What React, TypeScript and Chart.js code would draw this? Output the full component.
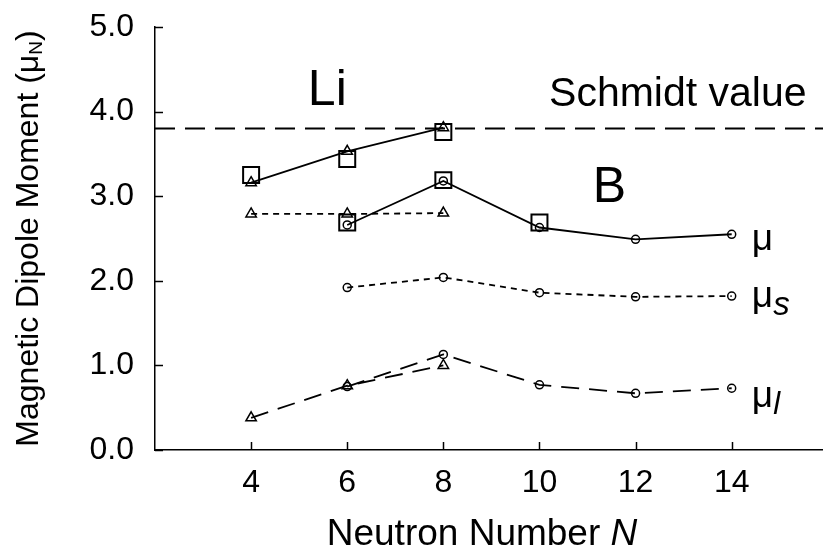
import React, { useEffect, useRef } from "react";
import { Chart, registerables } from "chart.js";

Chart.register(...registerables);

const FONT = "'Liberation Sans', Arial, Helvetica, sans-serif";

// Tick labels
const xTicks = [4, 6, 8, 10, 12, 14];
const yTicks = [0, 1, 2, 3, 4, 5];

// Schmidt value (horizontal dashed line)
const SCHMIDT_VALUE = 3.8;

// Li isotopes
const liN = [4, 6, 8];
const liMu = [3.16, 3.53, 3.81];
const liMuExp = [3.25, 3.44, 3.76];
const liMuS = [2.79, 2.79, 2.8];
const liMuL = [0.38, 0.76, 1.0];

// B isotopes
const bN = [6, 8, 10, 12, 14];
const bMu = [2.66, 3.18, 2.63, 2.49, 2.55];
const bMuS = [1.92, 2.04, 1.86, 1.81, 1.82];
const bMuL = [0.75, 1.13, 0.77, 0.67, 0.73];
const bExpN = [6, 8, 10];
const bMuExp = [2.69, 3.19, 2.69];

type Part = { text: string; font: string; dy?: number };

function drawParts(ctx: CanvasRenderingContext2D, parts: Part[], x: number, y: number, align: "left" | "center") {
  let total = 0;
  const widths = parts.map((p) => {
    ctx.font = p.font;
    const w = ctx.measureText(p.text).width;
    total += w;
    return w;
  });
  let cx = align === "center" ? x - total / 2 : x;
  ctx.textAlign = "left";
  ctx.textBaseline = "alphabetic";
  parts.forEach((p, i) => {
    ctx.font = p.font;
    ctx.fillText(p.text, cx, y + (p.dy || 0));
    cx += widths[i];
  });
}

const overlay = {
  id: "overlay",
  beforeDatasetsDraw(chart: any) {
    const { ctx, chartArea, scales } = chart;
    const y = scales.y.getPixelForValue(SCHMIDT_VALUE);
    ctx.save();
    ctx.strokeStyle = "#000";
    ctx.lineWidth = 1.8;
    ctx.setLineDash([20, 10]);
    ctx.beginPath();
    ctx.moveTo(chartArea.left, y);
    ctx.lineTo(chartArea.right, y);
    ctx.stroke();
    ctx.restore();
  },
  afterDraw(chart: any) {
    const { ctx, chartArea, scales } = chart;
    const xs = scales.x;
    const ys = scales.y;
    ctx.save();
    ctx.strokeStyle = "#000";
    ctx.lineWidth = 1.5;
    ctx.setLineDash([]);
    // inward tick marks
    xTicks.forEach((v) => {
      const px = Math.round(xs.getPixelForValue(v)) + 0.5;
      ctx.beginPath();
      ctx.moveTo(px, chartArea.bottom);
      ctx.lineTo(px, chartArea.bottom - 8);
      ctx.stroke();
    });
    yTicks.forEach((v) => {
      const py = Math.round(ys.getPixelForValue(v)) + 0.5;
      ctx.beginPath();
      ctx.moveTo(chartArea.left, py);
      ctx.lineTo(chartArea.left + 8, py);
      ctx.stroke();
    });

    ctx.fillStyle = "#000";
    // annotations
    drawParts(ctx, [{ text: "Li", font: `50px ${FONT}` }], xs.getPixelForValue(5.18), ys.getPixelForValue(4.08), "left");
    drawParts(ctx, [{ text: "Schmidt value", font: `41px ${FONT}` }], xs.getPixelForValue(10.2), ys.getPixelForValue(4.07), "left");
    drawParts(ctx, [{ text: "B", font: `50px ${FONT}` }], xs.getPixelForValue(11.11), ys.getPixelForValue(2.935), "left");
    const lx = xs.getPixelForValue(14.42);
    drawParts(ctx, [{ text: "μ", font: `37px ${FONT}` }], lx, ys.getPixelForValue(2.36), "left");
    drawParts(
      ctx,
      [
        { text: "μ", font: `37px ${FONT}` },
        { text: "s", font: `italic 33px ${FONT}`, dy: 8 },
      ],
      lx,
      ys.getPixelForValue(1.69),
      "left"
    );
    drawParts(
      ctx,
      [
        { text: "μ", font: `37px ${FONT}` },
        { text: "l", font: `italic 31px ${FONT}`, dy: 7 },
      ],
      lx,
      ys.getPixelForValue(0.51),
      "left"
    );

    // x axis title
    drawParts(
      ctx,
      [
        { text: "Neutron Number ", font: `37px ${FONT}` },
        { text: "N", font: `italic 37px ${FONT}` },
      ],
      482,
      545,
      "center"
    );

    // y axis title (rotated)
    ctx.save();
    ctx.translate(38, (chartArea.top + chartArea.bottom) / 2);
    ctx.rotate(-Math.PI / 2);
    drawParts(
      ctx,
      [
        { text: "Magnetic Dipole Moment (μ", font: `32px ${FONT}` },
        { text: "N", font: `19px ${FONT}`, dy: 4 },
        { text: ")", font: `32px ${FONT}` },
      ],
      0,
      0,
      "center"
    );
    ctx.restore();
    ctx.restore();
  },
};

export default function App() {
  const ref = useRef<HTMLCanvasElement>(null);

  useEffect(() => {
    const canvas = ref.current;
    if (!canvas) return;
    const mk = (xv: number[], yv: number[]) => xv.map((x, i) => ({ x, y: yv[i] }));
    const base = {
      borderColor: "#000",
      pointBorderColor: "#000",
      pointBackgroundColor: "rgba(0,0,0,0)",
      borderWidth: 1.8,
      pointBorderWidth: 1.5,
      fill: false,
      tension: 0,
    };
    const chart = new Chart(canvas, {
      type: "scatter",
      data: {
        datasets: [
          { ...base, label: "Li mu", data: mk(liN, liMu), showLine: true, pointStyle: "triangle", pointRadius: 6 },
          { ...base, label: "Li mu exp", data: mk(liN, liMuExp), showLine: false, pointStyle: "rect", pointRadius: 11.3, pointBorderWidth: 2 },
          { ...base, label: "Li mu_s", data: mk(liN, liMuS), showLine: true, borderDash: [6, 5], pointStyle: "triangle", pointRadius: 6 },
          { ...base, label: "Li mu_l", data: mk(liN, liMuL), showLine: true, borderDash: [18, 10], pointStyle: "triangle", pointRadius: 6 },
          { ...base, label: "B mu", data: mk(bN, bMu), showLine: true, pointStyle: "circle", pointRadius: 4 },
          { ...base, label: "B mu exp", data: mk(bExpN, bMuExp), showLine: false, pointStyle: "rect", pointRadius: 11.3, pointBorderWidth: 2 },
          { ...base, label: "B mu_s", data: mk(bN, bMuS), showLine: true, borderDash: [6, 5], pointStyle: "circle", pointRadius: 4 },
          { ...base, label: "B mu_l", data: mk(bN, bMuL), showLine: true, borderDash: [18, 10], pointStyle: "circle", pointRadius: 4 },
        ] as any,
      },
      options: {
        responsive: false,
        animation: false,
        devicePixelRatio: 1,
        layout: { autoPadding: false, padding: { top: 27, right: 0, left: 0, bottom: 0 } },
        plugins: { legend: { display: false }, tooltip: { enabled: false } },
        scales: {
          x: {
            type: "linear",
            min: 2,
            max: 15.9,
            afterBuildTicks: (s: any) => {
              s.ticks = xTicks.map((v) => ({ value: v }));
            },
            afterFit: (s: any) => {
              s.height = 101;
              s.paddingLeft = 0;
              s.paddingRight = 0;
            },
            grid: { display: false, drawTicks: false },
            border: { display: true, color: "#000", width: 1.5 },
            ticks: {
              color: "#000",
              font: { family: FONT, size: 32 },
              padding: 14,
              maxRotation: 0,
              autoSkip: false,
            },
          },
          y: {
            type: "linear",
            min: 0,
            max: 5,
            afterBuildTicks: (s: any) => {
              s.ticks = yTicks.map((v) => ({ value: v }));
            },
            afterFit: (s: any) => {
              s.width = 155;
              s.paddingTop = 0;
              s.paddingBottom = 0;
            },
            grid: { display: false, drawTicks: false },
            border: { display: true, color: "#000", width: 1.5 },
            ticks: {
              color: "#000",
              font: { family: FONT, size: 32 },
              padding: 21,
              callback: (v: any) => Number(v).toFixed(1),
            },
          },
        },
      } as any,
      plugins: [overlay as any],
    });
    return () => chart.destroy();
  }, []);

  return (
    <div style={{ position: "absolute", left: 0, top: 0, width: 823, height: 551, background: "#fff" }}>
      <canvas ref={ref} width={823} height={551} style={{ display: "block", width: 823, height: 551 }} />
    </div>
  );
}
